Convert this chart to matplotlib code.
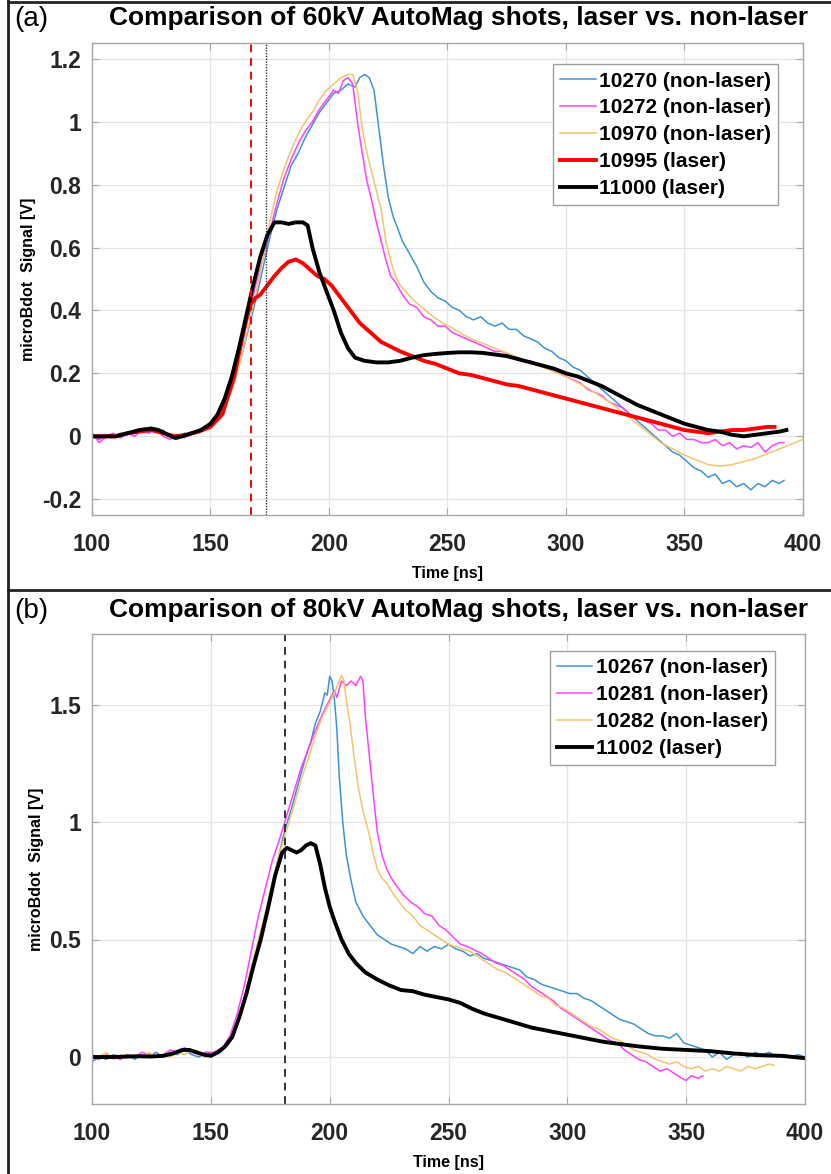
import matplotlib
matplotlib.use('Agg')
import matplotlib.pyplot as plt
from matplotlib.lines import Line2D

plt.rcParams['font.family'] = ['Liberation Sans', 'DejaVu Sans']

# ---------------- panel (a) : 60kV ----------------
t_10270 = [100, 103, 106, 109, 112, 115, 118, 121, 124, 127, 130, 133, 136, 139, 142, 145, 148, 151, 154, 157,
           160, 163, 166, 169, 172, 175, 178, 181, 184, 187, 190, 193, 196, 199, 202, 205, 208, 211, 213, 215,
           217, 219, 221, 223, 225, 227, 229, 231, 234, 237, 240, 243, 246, 249, 252, 255, 258, 261, 264, 267,
           270, 273, 276, 279, 282, 285, 288, 291, 294, 297, 300, 303, 306, 309, 312, 315, 318, 321, 324, 327,
           330, 333, 336, 339, 342, 345, 348, 351, 354, 357, 360, 363, 366, 369, 372, 375, 378, 381, 384, 387,
           390, 392]
v_10270 = [0.0, -0.01, 0.005, 0.0, 0.01, 0.005, 0.015, 0.02, 0.025, 0.015, 0.02, 0.0, -0.01, 0.01, 0.005, 0.02,
           0.03, 0.04, 0.07, 0.11, 0.17, 0.25, 0.34, 0.43, 0.53, 0.63, 0.72, 0.79, 0.86, 0.9, 0.95, 0.99, 1.03,
           1.06, 1.09, 1.1, 1.12, 1.11, 1.14, 1.15, 1.14, 1.1, 0.98, 0.86, 0.76, 0.7, 0.66, 0.62, 0.58, 0.54,
           0.49, 0.46, 0.44, 0.43, 0.41, 0.4, 0.38, 0.37, 0.38, 0.36, 0.35, 0.36, 0.34, 0.34, 0.32, 0.31, 0.3,
           0.28, 0.27, 0.25, 0.24, 0.22, 0.21, 0.19, 0.17, 0.15, 0.13, 0.11, 0.09, 0.07, 0.05, 0.03, 0.01, -0.01,
           -0.03, -0.05, -0.06, -0.08, -0.1, -0.11, -0.13, -0.12, -0.15, -0.14, -0.16, -0.15, -0.17, -0.15, -0.16,
           -0.14, -0.15, -0.14]

t_10272 = [100, 103, 106, 109, 112, 115, 118, 121, 124, 127, 130, 133, 136, 139, 142, 145, 148, 151, 154, 157,
           160, 163, 166, 169, 172, 175, 178, 181, 184, 187, 190, 193, 196, 199, 202, 204, 206, 208, 210, 212,
           214, 216, 218, 220, 222, 224, 226, 228, 231, 234, 237, 240, 243, 246, 249, 252, 255, 258, 261, 264,
           267, 270, 273, 276, 279, 282, 285, 288, 291, 294, 297, 300, 303, 306, 309, 312, 315, 318, 321, 324,
           327, 330, 333, 336, 339, 342, 345, 348, 351, 354, 357, 360, 363, 366, 369, 372, 375, 378, 381, 384,
           387, 390, 392]
v_10272 = [0.01, -0.02, 0.0, 0.01, -0.005, 0.01, 0.0, 0.02, 0.01, 0.025, 0.0, -0.01, 0.005, -0.005, 0.01, 0.02,
           0.03, 0.05, 0.08, 0.13, 0.2, 0.28, 0.38, 0.48, 0.56, 0.65, 0.74, 0.82, 0.88, 0.93, 0.97, 1.0, 1.04,
           1.07, 1.1, 1.09, 1.13, 1.14, 1.12, 1.0, 0.9, 0.81, 0.75, 0.68, 0.62, 0.56, 0.51, 0.49, 0.45, 0.42,
           0.41, 0.38, 0.37, 0.35, 0.35, 0.33, 0.32, 0.31, 0.3, 0.29, 0.28, 0.27, 0.27, 0.26, 0.25, 0.24, 0.24,
           0.23, 0.22, 0.21, 0.2, 0.19, 0.18, 0.17, 0.15, 0.14, 0.13, 0.11, 0.1, 0.09, 0.07, 0.06, 0.05, 0.04,
           0.02, 0.02, 0.0, 0.01, -0.01, -0.01, -0.02, -0.02, -0.01, -0.03, -0.02, -0.04, -0.03, -0.035, -0.02,
           -0.05, -0.03, -0.02, -0.02]

t_10970 = [100, 105, 110, 115, 120, 125, 130, 135, 140, 145, 150, 155, 160, 163, 166, 169, 172, 175, 178, 181,
           184, 187, 190, 193, 196, 199, 202, 205, 208, 210, 212, 214, 216, 218, 220, 222, 224, 226, 228, 230,
           233, 236, 240, 244, 248, 252, 256, 260, 265, 270, 275, 280, 285, 290, 295, 300, 305, 310, 315, 320,
           325, 330, 335, 340, 345, 350, 355, 360, 365, 370, 375, 380, 385, 390, 395, 400]
v_10970 = [0.0, 0.0, 0.005, 0.01, 0.015, 0.02, 0.01, 0.0, 0.005, 0.015, 0.03, 0.07, 0.17, 0.25, 0.35, 0.45, 0.56,
           0.68, 0.78, 0.85, 0.91, 0.96, 1.0, 1.03, 1.07, 1.1, 1.12, 1.14, 1.15, 1.15, 1.1, 0.98, 0.9, 0.84,
           0.78, 0.72, 0.62, 0.56, 0.51, 0.48, 0.455, 0.43, 0.405, 0.38, 0.36, 0.345, 0.325, 0.31, 0.295, 0.28,
           0.265, 0.25, 0.235, 0.22, 0.205, 0.19, 0.17, 0.15, 0.125, 0.1, 0.07, 0.04, 0.01, -0.02, -0.04, -0.06,
           -0.075, -0.09, -0.095, -0.09, -0.08, -0.07, -0.055, -0.04, -0.025, -0.01]

t_10995 = [100, 105, 110, 115, 120, 125, 130, 135, 140, 145, 150, 155, 160, 163, 165, 167, 169, 171, 173, 175,
           177, 180, 183, 186, 189, 192, 195, 198, 201, 204, 207, 210, 213, 216, 219, 222, 226, 230, 235, 240,
           245, 250, 255, 260, 265, 270, 275, 280, 285, 290, 295, 300, 305, 310, 315, 320, 325, 330, 335, 340,
           345, 350, 355, 360, 365, 370, 375, 380, 385, 388]
v_10995 = [0.0, 0.0, 0.0, 0.01, 0.015, 0.02, 0.01, 0.0, 0.005, 0.015, 0.03, 0.07, 0.19, 0.3, 0.37, 0.42, 0.44,
           0.45, 0.47, 0.49, 0.51, 0.535, 0.555, 0.562, 0.55, 0.53, 0.51, 0.5, 0.48, 0.45, 0.42, 0.39, 0.36,
           0.34, 0.32, 0.3, 0.285, 0.27, 0.255, 0.24, 0.23, 0.215, 0.2, 0.195, 0.185, 0.175, 0.165, 0.16, 0.15,
           0.14, 0.13, 0.12, 0.11, 0.1, 0.09, 0.08, 0.07, 0.06, 0.05, 0.04, 0.03, 0.02, 0.015, 0.01, 0.015, 0.02,
           0.02, 0.025, 0.03, 0.03]

t_11000 = [100, 110, 115, 120, 125, 128, 132, 135, 138, 142, 146, 150, 153, 156, 159, 162, 165, 168, 171, 174,
           177, 180, 183, 186, 189, 191, 193, 196, 199, 202, 205, 208, 211, 215, 220, 225, 230, 235, 240, 245,
           250, 255, 260, 265, 270, 275, 280, 285, 290, 295, 300, 305, 310, 315, 320, 325, 330, 335, 340, 345,
           350, 355, 360, 365, 370, 375, 380, 385, 390, 393]
v_11000 = [0.0, 0.0, 0.01, 0.02, 0.025, 0.02, 0.005, -0.005, 0.0, 0.01, 0.02, 0.04, 0.07, 0.12, 0.19, 0.28,
           0.38, 0.48, 0.57, 0.64, 0.68, 0.68, 0.675, 0.68, 0.68, 0.67, 0.6, 0.52, 0.46, 0.4, 0.33, 0.28, 0.25,
           0.24, 0.235, 0.235, 0.24, 0.25, 0.258, 0.262, 0.265, 0.267, 0.267, 0.265, 0.26, 0.255, 0.245, 0.235,
           0.225, 0.215, 0.2, 0.19, 0.175, 0.16, 0.14, 0.12, 0.1, 0.085, 0.07, 0.055, 0.04, 0.03, 0.02, 0.015,
           0.005, 0.0, 0.005, 0.01, 0.015, 0.02]

# ---------------- panel (b) : 80kV ----------------
t_10267 = [100, 103, 106, 109, 112, 115, 118, 121, 124, 127, 130, 133, 136, 139, 142, 145, 148, 151, 154, 157,
           160, 163, 166, 169, 172, 175, 178, 181, 184, 187, 190, 192, 194, 196, 198, 199, 200, 201, 202, 203,
           204, 205.5, 207, 209, 211, 214, 217, 220, 223, 226, 229, 232, 235, 238, 241, 244, 247, 250, 253, 256,
           259, 262, 265, 268, 271, 274, 277, 280, 283, 286, 289, 292, 295, 298, 301, 304, 307, 310, 313, 316,
           319, 322, 325, 328, 331, 334, 337, 340, 343, 346, 349, 352, 355, 358, 361, 364, 367, 370, 373, 376,
           379, 382, 385, 388, 391, 394, 397, 400]
v_10267 = [-0.02, 0.0, -0.01, 0.01, 0.0, 0.01, -0.01, 0.01, 0.0, 0.02, 0.0, 0.02, 0.01, 0.03, 0.01, 0.0, 0.02,
           0.01, 0.02, 0.05, 0.11, 0.2, 0.32, 0.44, 0.56, 0.69, 0.83, 0.96, 1.06, 1.17, 1.28, 1.34, 1.42, 1.47,
           1.55, 1.54, 1.62, 1.6, 1.52, 1.4, 1.2, 1.0, 0.86, 0.75, 0.66, 0.6, 0.56, 0.52, 0.5, 0.48, 0.47, 0.46,
           0.44, 0.47, 0.45, 0.47, 0.46, 0.48, 0.46, 0.45, 0.43, 0.44, 0.42, 0.41, 0.4, 0.39, 0.38, 0.37, 0.34,
           0.33, 0.31, 0.3, 0.29, 0.28, 0.27, 0.27, 0.25, 0.24, 0.22, 0.2, 0.18, 0.16, 0.15, 0.14, 0.12, 0.1,
           0.09, 0.09, 0.08, 0.1, 0.06, 0.05, 0.04, 0.03, 0.0, 0.02, -0.01, 0.01, 0.02, 0.0, 0.02, 0.01, 0.02,
           0.0, 0.01, 0.0, 0.01, 0.0]

t_10281 = [100, 103, 106, 109, 112, 115, 118, 121, 124, 127, 130, 133, 136, 139, 142, 145, 148, 151, 155, 158,
           161, 164, 167, 170, 173, 176, 179, 182, 185, 188, 191, 194, 197, 200, 202, 203, 205, 207, 209, 211,
           213, 214, 215, 216.5, 218, 220, 222, 224, 226, 228, 231, 234, 237, 240, 243, 246, 249, 252, 255, 258,
           261, 264, 267, 270, 273, 276, 279, 282, 285, 288, 291, 294, 297, 300, 303, 306, 309, 312, 315, 318,
           321, 324, 327, 330, 333, 336, 339, 342, 345, 348, 350, 352, 355, 357]
v_10281 = [0.0, -0.01, 0.01, 0.0, -0.01, 0.01, 0.0, 0.02, 0.01, 0.0, 0.01, 0.03, 0.02, 0.04, 0.02, 0.01, 0.02,
           0.02, 0.04, 0.09, 0.18, 0.3, 0.45, 0.6, 0.72, 0.84, 0.93, 1.03, 1.13, 1.23, 1.31, 1.39, 1.46, 1.52,
           1.56, 1.53, 1.6, 1.58, 1.6, 1.58, 1.62, 1.6, 1.45, 1.3, 1.15, 0.96, 0.86, 0.8, 0.76, 0.73, 0.69, 0.66,
           0.64, 0.61, 0.6, 0.56, 0.54, 0.51, 0.48, 0.47, 0.455, 0.44, 0.42, 0.4, 0.39, 0.37, 0.35, 0.33, 0.3,
           0.28, 0.26, 0.24, 0.21, 0.19, 0.17, 0.15, 0.13, 0.11, 0.09, 0.07, 0.06, 0.03, 0.01, -0.01, -0.02,
           -0.04, -0.06, -0.05, -0.07, -0.09, -0.1, -0.08, -0.09, -0.08]

t_10282 = [100, 103, 106, 109, 112, 115, 118, 121, 124, 127, 130, 133, 136, 139, 142, 145, 148, 151, 155, 158,
           161, 164, 167, 170, 173, 176, 179, 182, 185, 188, 191, 194, 197, 200, 202, 204, 205, 206, 207, 208.4,
           210, 212, 214, 216.8, 218, 220, 222, 224, 227, 230, 232, 235, 238, 241, 244, 247, 250, 253, 256, 259,
           262, 265, 268, 271, 274, 277, 280, 283, 286, 289, 292, 295, 298, 301, 304, 307, 310, 313, 316, 319,
           322, 325, 328, 331, 334, 337, 340, 343, 346, 349, 352, 355, 358, 361, 364, 367, 370, 373, 376, 379,
           382, 385, 387]
v_10282 = [0.01, 0.0, 0.02, -0.01, 0.01, 0.0, 0.01, 0.0, 0.02, 0.0, 0.01, 0.0, 0.02, 0.01, 0.03, 0.01, 0.0, 0.01,
           0.03, 0.07, 0.14, 0.25, 0.38, 0.5, 0.62, 0.75, 0.87, 0.97, 1.07, 1.18, 1.27, 1.37, 1.45, 1.51, 1.55,
           1.6, 1.625, 1.6, 1.52, 1.43, 1.3, 1.15, 1.05, 0.94, 0.88, 0.8, 0.76, 0.74, 0.69, 0.65, 0.625, 0.6,
           0.56, 0.54, 0.52, 0.5, 0.48, 0.47, 0.46, 0.45, 0.43, 0.41, 0.39, 0.37, 0.36, 0.34, 0.32, 0.3, 0.28,
           0.26, 0.25, 0.22, 0.21, 0.19, 0.17, 0.15, 0.13, 0.12, 0.1, 0.08, 0.07, 0.05, 0.03, 0.02, 0.01, -0.01,
           -0.02, -0.03, -0.02, -0.04, -0.05, -0.04, -0.06, -0.05, -0.06, -0.04, -0.05, -0.06, -0.04, -0.05,
           -0.04, -0.03, -0.035]

t_11002 = [100, 105, 110, 115, 120, 125, 130, 134, 138, 141, 144, 147, 150, 153, 156, 159, 162, 165, 168, 171,
           174, 177, 180, 182, 184, 186, 188, 190, 192, 194, 196, 198, 200, 202, 205, 208, 211, 215, 220, 225,
           230, 235, 240, 245, 250, 255, 260, 265, 270, 275, 280, 285, 290, 295, 300, 305, 310, 315, 320, 330,
           340, 350, 360, 370, 380, 390, 400]
v_11002 = [0.0, 0.0, 0.0, 0.002, 0.003, 0.002, 0.005, 0.015, 0.03, 0.03, 0.02, 0.01, 0.005, 0.02, 0.045, 0.085,
           0.17, 0.27, 0.39, 0.5, 0.63, 0.77, 0.87, 0.89, 0.88, 0.87, 0.88, 0.9, 0.91, 0.9, 0.82, 0.72, 0.64,
           0.58, 0.5, 0.44, 0.4, 0.36, 0.33, 0.305, 0.285, 0.28, 0.265, 0.255, 0.245, 0.23, 0.205, 0.185, 0.17,
           0.155, 0.14, 0.125, 0.115, 0.105, 0.095, 0.085, 0.075, 0.065, 0.058, 0.045, 0.035, 0.03, 0.025, 0.015,
           0.008, 0.005, -0.005]

BLUE = '#3d94d4'
PINK = '#ff40ff'
ORANGE = '#f3c46c'

W, H = 831, 1174
fig = plt.figure(figsize=(W / 100, H / 100), dpi=100)


def style_axes(ax, ylim, yticks, yticklabels):
    ax.set_xlim(100, 400)
    ax.set_ylim(*ylim)
    ax.set_xticks([100, 150, 200, 250, 300, 350, 400])
    ax.set_yticks(yticks)
    ax.set_yticklabels(yticklabels)
    ax.grid(True, color='#e4e4e4', linewidth=0.9)
    ax.set_axisbelow(True)
    for s in ax.spines.values():
        s.set_color('#a8a8a8')
        s.set_linewidth(1.0)
    ax.tick_params(direction='in', length=5, color='#a8a8a8', top=True, right=True,
                   labelsize=16.5)
    ax.tick_params(axis='x', pad=13)
    ax.tick_params(axis='y', pad=8)
    for lab in ax.get_xticklabels() + ax.get_yticklabels():
        lab.set_fontweight('bold')
        lab.set_color('#262626')
    ax.set_xlabel('Time [ns]', fontsize=11.5, fontweight='bold', labelpad=7)
    ax.set_ylabel('microBdot  Signal [V]', fontsize=11.5, fontweight='bold', labelpad=4)


def add_legend(ax, anchor):
    leg = ax.legend(loc='upper right', bbox_to_anchor=anchor, borderaxespad=0,
                    prop={'weight': 'bold', 'size': 15}, handlelength=1.7, handletextpad=0.15,
                    labelspacing=0.38, borderpad=0.35, fancybox=False, framealpha=1,
                    edgecolor='#a0a0a0')
    leg.get_frame().set_linewidth(1.0)
    return leg


# panel (a)
ax1 = fig.add_axes([92 / W, 1 - 515 / H, 711 / W, 472 / H])
ax1.plot(t_10270, v_10270, color=BLUE, lw=1.1, label='10270 (non-laser)')
ax1.plot(t_10272, v_10272, color=PINK, lw=1.1, label='10272 (non-laser)')
ax1.plot(t_10970, v_10970, color=ORANGE, lw=1.1, label='10970 (non-laser)')
ax1.plot(t_10995, v_10995, color='#ff0000', lw=2.8, label='10995 (laser)')
ax1.plot(t_11000, v_11000, color='black', lw=2.8, label='11000 (laser)')
ax1.axvline(167, color='#ff0000', lw=1.4, ls=(0, (4, 3)))
ax1.axvline(173.3, color='#333333', lw=1.0, ls=(0, (1, 1)))
style_axes(ax1, (-0.25, 1.25), [-0.2, 0, 0.2, 0.4, 0.6, 0.8, 1, 1.2],
           ['-0.2', '0', '0.2', '0.4', '0.6', '0.8', '1', '1.2'])
add_legend(ax1, (0.965, 0.955))

# panel (b)
ax2 = fig.add_axes([92 / W, 1 - 1104 / H, 713 / W, 470 / H])
ax2.plot(t_10267, v_10267, color=BLUE, lw=1.1, label='10267 (non-laser)')
ax2.plot(t_10281, v_10281, color=PINK, lw=1.1, label='10281 (non-laser)')
ax2.plot(t_10282, v_10282, color=ORANGE, lw=1.1, label='10282 (non-laser)')
ax2.plot(t_11002, v_11002, color='black', lw=2.8, label='11002 (laser)')
ax2.axvline(181, color='#333333', lw=1.4, ls=(0, (4, 3)))
style_axes(ax2, (-0.2, 1.8), [0, 0.5, 1, 1.5], ['0', '0.5', '1', '1.5'])
add_legend(ax2, (0.958, 0.964))

# titles and panel letters
fig.text(459 / W, 1 - 18 / H, 'Comparison of 60kV AutoMag shots, laser vs. non-laser',
         ha='center', va='center', fontsize=19, fontweight='bold')
fig.text(459 / W, 1 - 610 / H, 'Comparison of 80kV AutoMag shots, laser vs. non-laser',
         ha='center', va='center', fontsize=19, fontweight='bold')
fig.text(14 / W, 1 - 19 / H, '(a)', ha='left', va='center', fontsize=20)
fig.text(14 / W, 1 - 611 / H, '(b)', ha='left', va='center', fontsize=20)

# outer frame lines
fig.add_artist(Line2D([8 / W, 8 / W], [0, 1], color='#222222', lw=2.0))
fig.add_artist(Line2D([8 / W, 1], [1 - 1.5 / H, 1 - 1.5 / H], color='#222222', lw=2.0))
fig.add_artist(Line2D([8 / W, 1], [1 - 590 / H, 1 - 590 / H], color='#222222', lw=2.0))

fig.savefig('out.png', dpi=100)
